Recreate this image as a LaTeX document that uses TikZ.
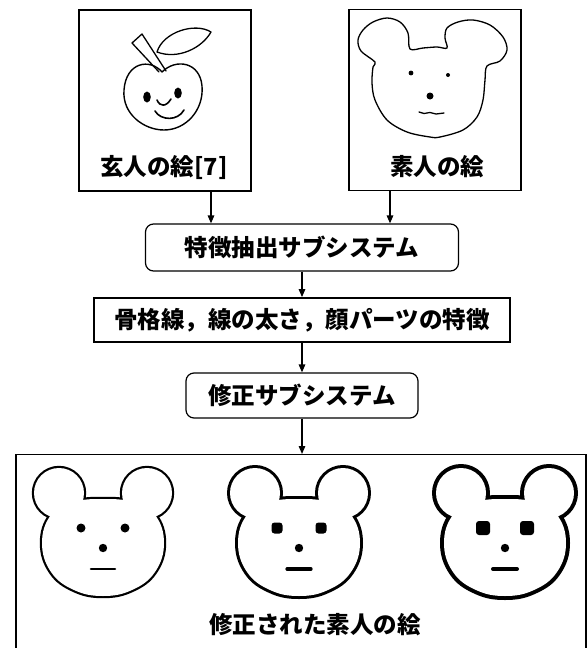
\documentclass[tikz,border=0pt]{standalone}
\usepackage{fontspec}
\newfontfamily\jp{Noto Sans CJK JP}
\usetikzlibrary{arrows.meta}

% outline of a bear head: two round ears and a rounded face
\tikzset{
  bearshape/.style={insert path={
    (-44,-55) circle[radius=25pt] (44,-55) circle[radius=25pt]
    plot[smooth cycle, tension=0.7] coordinates {
      (0,-49) (-29,-46) (-52,-33) (-61,-5) (-52,24) (-29,42)
      (0,48) (29,42) (52,24) (61,-5) (52,-33) (29,-46)}
  }}
}

% #1,#2 face centre, #3 outline width, #4 eye size, #5 eye corner radius, #6 mouth width
\newcommand\teddy[6]{%
  \begin{scope}[shift={(#1,#2)}]
    \path[draw, line width=2*#3, line join=round] [bearshape];
    \fill[white] [bearshape];
    \fill[rounded corners=#5] (-22-#4/2,-20-#4/2) rectangle ++(#4,#4);
    \fill[rounded corners=#5] (22-#4/2,-20-#4/2) rectangle ++(#4,#4);
    \fill (0,0) circle[radius=4.2pt];
    \draw[line width=#6, line cap=round] (-12,21) -- (12,21);
  \end{scope}}

\begin{document}
\begin{tikzpicture}[x=1pt, y=-1pt,
  frame/.style={draw, line width=1.3pt, inner sep=0pt},
  rbox/.style={draw, line width=1.2pt, rounded corners=8pt, inner sep=0pt},
  sqbox/.style={draw, line width=1.8pt, inner sep=0pt},
  lbl/.style={font=\jp\bfseries\fontsize{23.5pt}{24pt}\selectfont, inner sep=0pt},
  arr/.style={line width=1.4pt, -{Triangle[length=8pt,width=6.5pt]}},
  pen/.style={line width=1.4pt, line join=round, line cap=round}]

\clip (0,0) rectangle (588,648);
\fill[white] (0,0) rectangle (588,648);

% input pictures
\node[frame, minimum width=172pt, minimum height=181pt] (expert) at (165,100.5) {};
\node[frame, minimum width=172pt, minimum height=181pt] (amateur) at (435,100) {};
\node[lbl] (expertlbl) at (164,167) {玄人の絵[7]};
\node[lbl] (amateurlbl) at (437,167) {素人の絵};

% processing chain
\node[rbox, lbl, minimum width=313pt, minimum height=47pt] (extract) at (302,247.5) {特徴抽出サブシステム};
\node[sqbox, lbl, minimum width=416pt, minimum height=44pt] (features) at (302,320) {骨格線，線の太さ，顔パーツの特徴};
\node[rbox, lbl, minimum width=232pt, minimum height=45pt] (correct) at (302,395.5) {修正サブシステム};

% output panel (runs off the lower edge)
\node[frame, minimum width=570pt, minimum height=215pt, anchor=north] (result) at (301,454) {};
\node[lbl] (resultlbl) at (315,625) {修正された素人の絵};

% connectors
\coordinate (ax) at (211,0);
\coordinate (bx) at (390,0);
\draw[arr] (expert.south -| ax) -- (extract.north -| ax);
\draw[arr] (amateur.south -| bx) -- (extract.north -| bx);
\draw[arr] (extract.south) -- (features.north);
\draw[arr] (features.south) -- (correct.north);
\draw[arr] (correct.south) -- (correct.south |- result.north);

% apple
\draw[pen] (162,72) .. controls (150,58) and (126,62) .. (124,90)
  .. controls (122,114) and (144,130) .. (164,130)
  .. controls (186,130) and (204,110) .. (202,86)
  .. controls (200,62) and (176,58) .. (162,72) -- cycle;
\draw[pen, line width=1.3pt] (159,72) -- (132,43) -- (142,34) -- (166,71);
\draw[pen, line width=1.3pt] (157,52) .. controls (163,32) and (195,22) .. (211,32)
  .. controls (202,48) and (178,60) .. (157,52) -- cycle;
\fill (147,97) ellipse[x radius=3.8pt, y radius=5.5pt];
\fill (178,93) ellipse[x radius=3.8pt, y radius=5.5pt];
\draw[pen, line width=1.6pt] (157,100) .. controls (160,107) and (166,107) .. (171,99);
\draw[pen, line width=1.6pt] (155,111) .. controls (161,121) and (178,121) .. (184,110);

% freehand bear
\draw[line width=1.3pt, line join=round] plot[smooth cycle, tension=0.55] coordinates {
  (375,62) (361,51) (358,40) (363,30) (373,22) (387,18) (400,22) (408,33)
  (410,49) (423,48) (437,47) (447,48) (445,38) (447,28) (458,22) (473,20)
  (490,25) (503,37) (507,50) (500,61) (487,66) (485,80) (483,100) (477,117)
  (463,130) (440,137) (430,137) (407,132) (387,120) (375,100) (372,83) (373,67)};
\fill (411,73) circle[radius=2.4pt];
\fill (448,75) circle[radius=2pt];
\fill (430,96) circle[radius=3.5pt];
\draw[line width=1.3pt, line cap=round] (419,112) -- (424,113.5) -- (430,112.5)
  -- (436,114) -- (444,113);

% corrected bears
\teddy{103}{548}{2.2pt}{9}{4.5pt}{2.6pt}
\teddy{299}{548}{3pt}{11}{3pt}{3.2pt}
\teddy{505}{548}{4pt}{14}{3pt}{4pt}
\end{tikzpicture}
\end{document}
